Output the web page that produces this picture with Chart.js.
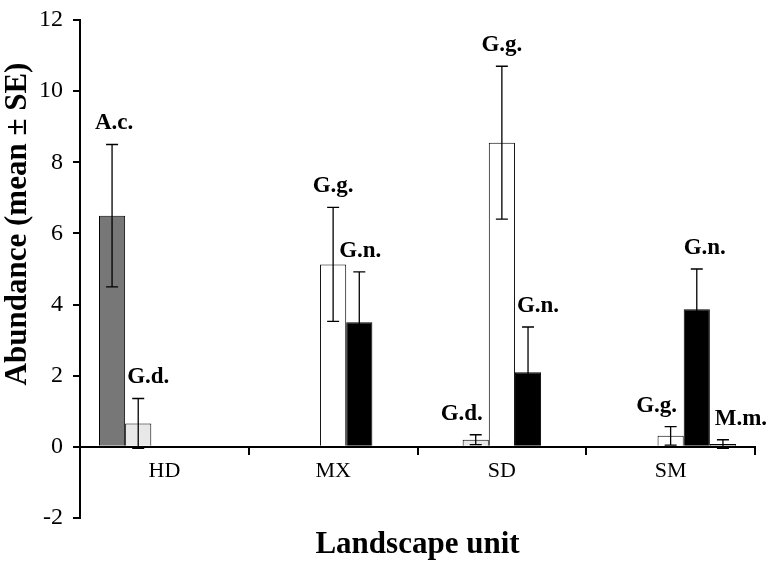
<!DOCTYPE html>
<html>
<head>
<meta charset="utf-8">
<script src="https://cdn.jsdelivr.net/npm/chart.js@4.4.0/dist/chart.umd.min.js"></script>
<style>
  html, body { margin: 0; padding: 0; background: #fff; }
  #wrap { width: 770px; height: 562px; position: relative; }
</style>
</head>
<body>
<div id="wrap"><canvas id="chart"></canvas></div>
<script>
'use strict';
// landscape units
var units = ['HD', 'MX', 'SD', 'SM'];
var yTicks = { min: -2, max: 12, step: 2 };

// species means (null = not recorded in that unit)
var acMean = [6.5, null, null, null];
var gdMean = [0.66, null, 0.2, null];
var ggMean = [null, 5.13, 8.55, 0.31];
var gnMean = [null, 3.5, 2.1, 3.87];
var mmMean = [null, null, null, 0.08];

// standard errors
var acSE = [2.0, null, null, null];
var gdSE = [0.7, null, 0.14, null];
var ggSE = [null, 1.6, 2.15, 0.26];
var gnSE = [null, 1.42, 1.27, 1.13];
var mmSE = [null, null, null, 0.12];

var serif = '"Liberation Serif", "Times New Roman", serif';

var errorBars = {
	id: 'errorBars',
	afterDatasetsDraw: function (chart, args, opts) {
		var ctx = chart.ctx, y = chart.scales.y;
		ctx.save();
		chart.data.datasets.forEach(function (ds, di) {
			var meta = chart.getDatasetMeta(di);
			ds.data.forEach(function (v, i) {
				if (v == null) return;
				var se = ds.errors[i];
				var x = meta.data[i].x;
				var yTop = y.getPixelForValue(v + se),
					yBot = y.getPixelForValue(v - se);
				ctx.strokeStyle = '#000';
				ctx.lineWidth = 1.3;
				ctx.beginPath();
				ctx.moveTo(x, yTop); ctx.lineTo(x, yBot);
				ctx.moveTo(x - 6, yTop); ctx.lineTo(x + 6, yTop);
				ctx.moveTo(x - 6, yBot); ctx.lineTo(x + 6, yBot);
				ctx.stroke();
				ctx.fillStyle = '#000';
				ctx.font = 'bold 23px ' + serif;
				ctx.textAlign = 'center';
				ctx.textBaseline = 'middle';
				ctx.fillText(ds.label, x + opts.nudge[di][i], yTop - 21);
			});
		});
		ctx.restore();
	}
};

// axis titles, placed against the chart area
var axisTitles = {
	id: 'axisTitles',
	afterDraw: function (chart, args, opts) {
		var ctx = chart.ctx, area = chart.chartArea;
		ctx.save();
		ctx.fillStyle = '#000';
		ctx.font = 'bold 31px ' + serif;
		ctx.textAlign = 'center';
		ctx.textBaseline = 'middle';
		ctx.fillText(opts.x, (area.left + area.right) / 2, 545);
		ctx.translate(18, 224);
		ctx.rotate(-Math.PI / 2);
		ctx.fillText(opts.y, 0, 0);
		ctx.restore();
	}
};

new Chart(document.getElementById('chart'), {
	type: 'bar',
	data: {
		labels: units,
		datasets: [
			{ label: 'A.c.', data: acMean, errors: acSE, backgroundColor: '#777777' },
			{ label: 'G.d.', data: gdMean, errors: gdSE, backgroundColor: '#e8e8e8' },
			{ label: 'G.g.', data: ggMean, errors: ggSE, backgroundColor: '#ffffff' },
			{ label: 'G.n.', data: gnMean, errors: gnSE, backgroundColor: '#000000' },
			{ label: 'M.m.', data: mmMean, errors: mmSE, backgroundColor: '#8a8a8a' }
		].map(function (d) {
			d.borderColor = '#000';
			d.borderWidth = 1;
			d.barPercentage = 1;
			d.categoryPercentage = 0.775;
			return d;
		})
	},
	options: {
		responsive: true,
		maintainAspectRatio: false,
		animation: false,
		layout: { padding: { top: 20, right: 15, left: 0, bottom: 44 } },
		plugins: {
			legend: { display: false },
			tooltip: { enabled: false },
			errorBars: {
				nudge: [[2, 0, 0, 0], [10, 0, -14, 0], [0, 0, 0, -14], [0, 1, 10, 8], [0, 0, 0, 18]]
			},
			axisTitles: { x: 'Landscape unit', y: 'Abundance (mean \u00b1 SE)' }
		},
		scales: {
			x: {
				position: { y: 0 },
				grid: { offset: true, drawOnChartArea: false, drawTicks: true, tickLength: 7, color: '#000', lineWidth: 2 },
				border: { color: '#000', width: 2 },
				ticks: { color: '#000', padding: 4, font: { family: serif, size: 22 } }
			},
			y: {
				min: yTicks.min,
				max: yTicks.max,
				afterFit: function (s) { s.width = 80; s.paddingTop = 0; s.paddingBottom = 0; },
				grid: { drawOnChartArea: false, drawTicks: true, tickLength: 7, color: '#000', lineWidth: 2 },
				border: { color: '#000', width: 2 },
				ticks: { stepSize: yTicks.step, color: '#000', padding: 10, font: { family: serif, size: 24 } }
			}
		}
	},
	plugins: [errorBars, axisTitles]
});
</script>
</body>
</html>
